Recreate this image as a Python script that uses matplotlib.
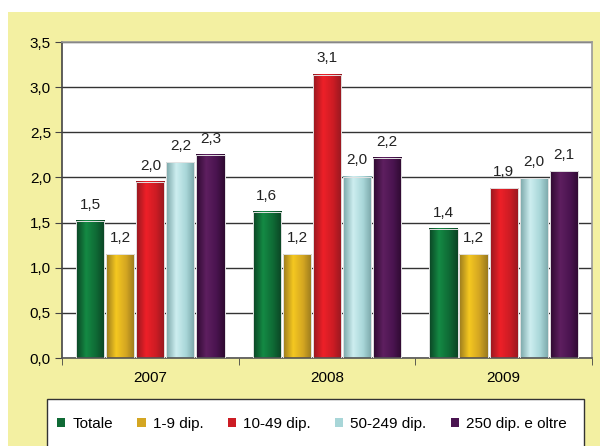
import matplotlib
matplotlib.use('Agg')
import matplotlib.pyplot as plt
import numpy as np
from matplotlib.colors import LinearSegmentedColormap
from matplotlib.patches import Rectangle

plt.rcParams['font.family'] = ['Liberation Sans', 'DejaVu Sans']

# data
years = ['2007', '2008', '2009']
series = ['Totale', '1-9 dip.', '10-49 dip.', '50-249 dip.', '250 dip. e oltre']
values = [
    [1.52, 1.62, 1.43],   # Totale
    [1.15, 1.15, 1.15],   # 1-9 dip.
    [1.95, 3.14, 1.88],   # 10-49 dip.
    [2.17, 2.01, 1.99],   # 50-249 dip.
    [2.25, 2.22, 2.07],   # 250 dip. e oltre
]
value_labels = [
    ['1,5', '1,6', '1,4'],
    ['1,2', '1,2', '1,2'],
    ['2,0', '3,1', '1,9'],
    ['2,2', '2,0', '2,0'],
    ['2,3', '2,2', '2,1'],
]
yticks = [0.0, 0.5, 1.0, 1.5, 2.0, 2.5, 3.0, 3.5]
ytick_labels = ['0,0', '0,5', '1,0', '1,5', '2,0', '2,5', '3,0', '3,5']

# (dark, light, base) for the shaded bars
shades = [
    ('#0b4424', '#148a44', '#0f6a35'),
    ('#9a7a1e', '#f5c820', '#d4a622'),
    ('#961820', '#ee2028', '#cc1c24'),
    ('#7aa6a8', '#cdeef0', '#a8d6d8'),
    ('#2e0a30', '#5e1f60', '#4a1450'),
]

fig = plt.figure(figsize=(6, 4.46), dpi=100)
fig.patch.set_facecolor('white')
fig.patches.append(Rectangle((8 / 600, 0), 1, 1 - 12 / 446, transform=fig.transFigure,
                             facecolor='#f3f0a2', edgecolor='none', zorder=-10))

ax = fig.add_axes([62 / 600, 88 / 446, 530 / 600, 316 / 446])
ax.set_facecolor('white')

x = np.arange(len(years))
pitch = 0.17
width = 0.16
grad = np.linspace(0, 1, 64).reshape(1, -1)
for i, vals in enumerate(values):
    dark, light, base = shades[i]
    cmap = LinearSegmentedColormap.from_list('s%d' % i, [(0, dark), (0.35, light), (0.7, base), (1, dark)])
    offs = (i - 2) * pitch
    for j, v in enumerate(vals):
        x0 = x[j] + offs - width / 2
        ax.imshow(grad, cmap=cmap, extent=[x0, x0 + width, 0, v], aspect='auto', zorder=2)
        ax.text(x[j] + offs, v + 0.1, value_labels[i][j], ha='center', va='bottom', fontsize=11, color='#222222')
    ax.bar(x + offs, vals, width, facecolor='none', edgecolor='#e2e2e2', linewidth=0.7, zorder=3)

ax.set_xlim(-0.5, 2.5)
ax.set_ylim(0, 3.5)
ax.set_yticks(yticks)
ax.set_yticklabels(ytick_labels, fontsize=11)
ax.yaxis.grid(True, color='#333333', linewidth=1.0, zorder=0)
ax.set_axisbelow(True)
ax.set_xticks(x)
ax.set_xticklabels(years, fontsize=11)
ax.set_xticks([-0.5, 0.5, 1.5, 2.5], minor=True)
ax.tick_params(axis='x', which='major', length=0, pad=9)
ax.tick_params(axis='x', which='minor', length=5, direction='out', color='#444444')
ax.tick_params(axis='y', length=5, direction='out', color='#444444', pad=3)

ax.spines['left'].set_color('#444444')
ax.spines['bottom'].set_color('#555555')
ax.spines['top'].set_color('#999999')
ax.spines['right'].set_color('#999999')
for s in ax.spines.values():
    s.set_linewidth(1.2)

# legend box
fig.patches.append(Rectangle((47 / 600, -0.02), 537 / 600, 47 / 446 + 0.02, transform=fig.transFigure,
                             facecolor='white', edgecolor='#333333', linewidth=1.0, zorder=1))
handles = [Rectangle((0, 0), 1, 1, facecolor=s[2], edgecolor='none') for s in shades]
leg = fig.legend(handles, series, loc='center left', bbox_to_anchor=(57 / 600, 22 / 446), ncol=5,
                 frameon=False, fontsize=11, handlelength=0.55, handleheight=0.55,
                 handletextpad=0.45, columnspacing=1.6, borderpad=0, borderaxespad=0)

fig.savefig('out.png', dpi=100)
